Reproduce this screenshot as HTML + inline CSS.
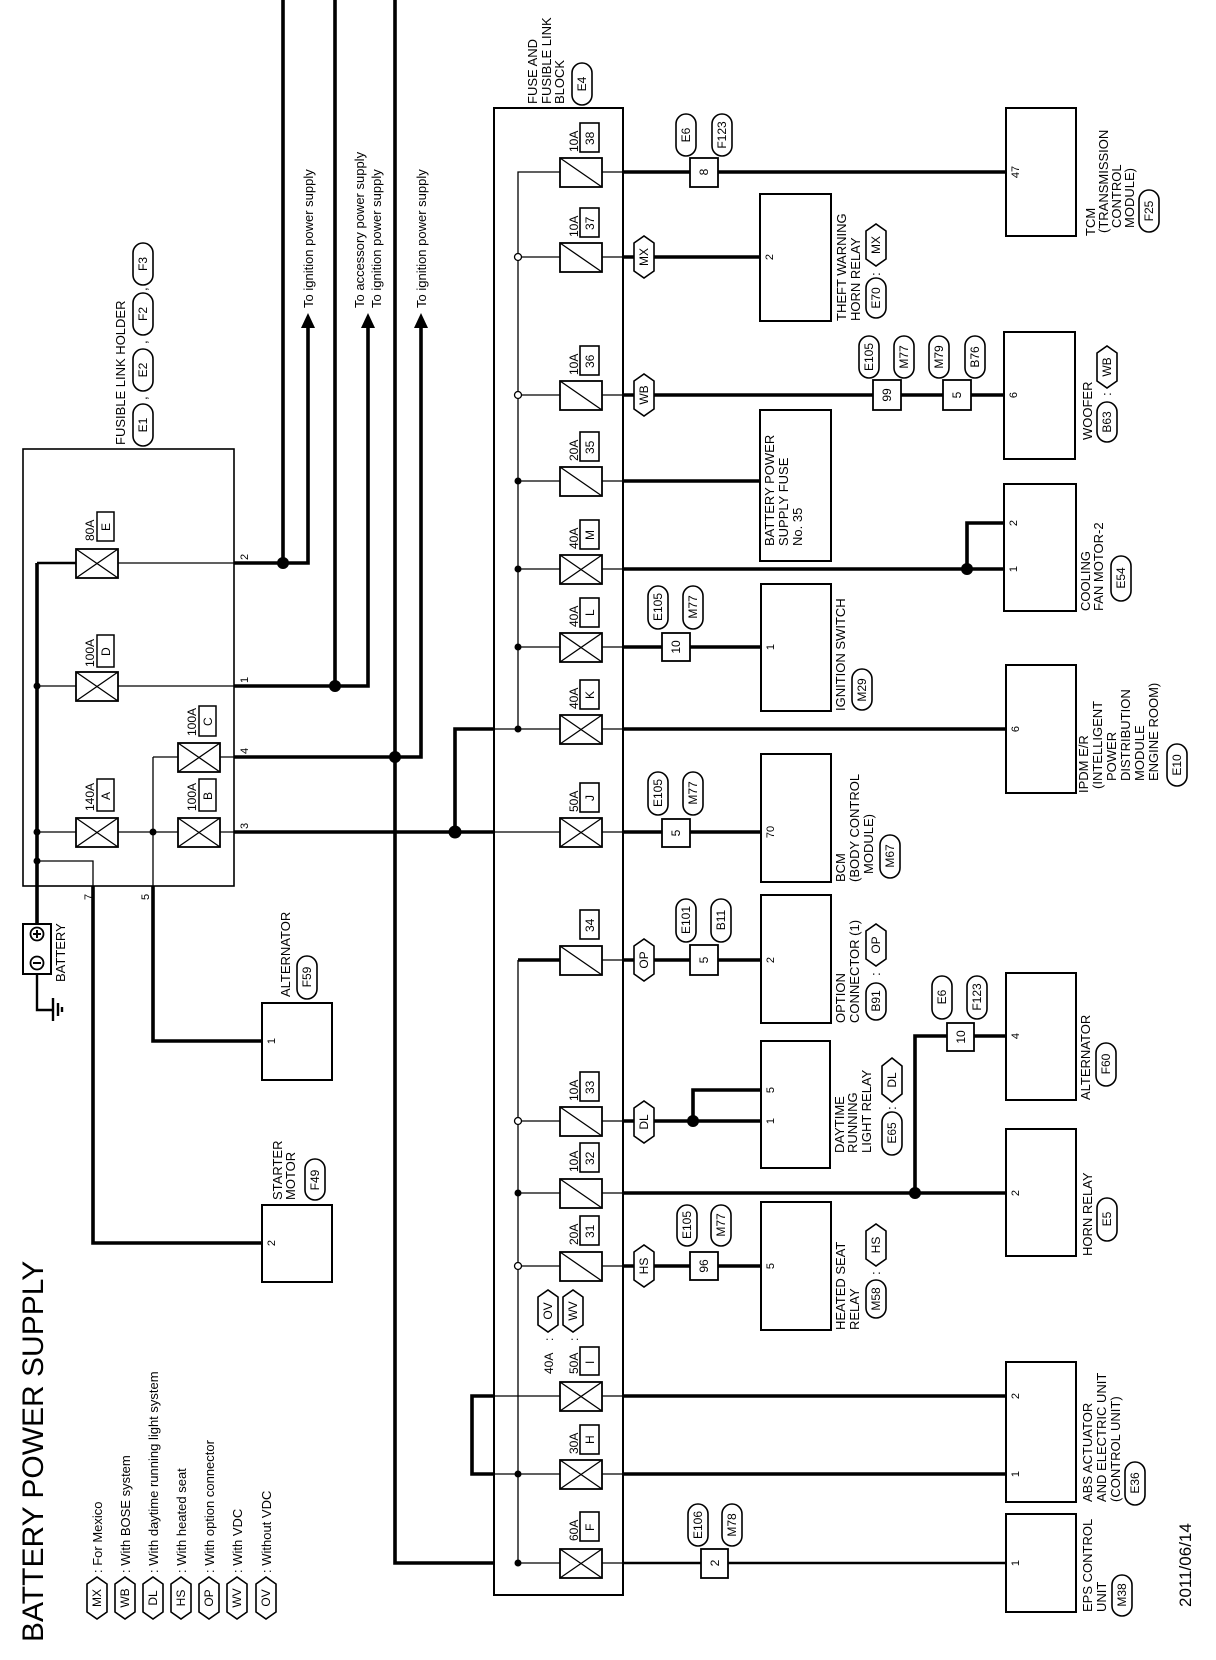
<!DOCTYPE html>
<html><head><meta charset="utf-8"><style>
html,body{margin:0;padding:0;background:#fff;}
svg{display:block;}
text{font-family:"Liberation Sans",Arial,sans-serif;fill:#000;}
.tk{stroke:#000;stroke-width:3.6;fill:none;}
.md{stroke:#000;stroke-width:2.4;fill:none;}
.tn{stroke:#000;stroke-width:1.3;fill:none;}
.bx{stroke:#000;stroke-width:2;fill:#fff;}
.cb{stroke:#000;stroke-width:1.8;fill:#fff;}
.fz{stroke:#000;stroke-width:1.8;fill:#fff;}
.t{font-size:13px;}
.s{font-size:12px;}
.p{font-size:11px;}
</style></head><body>
<svg xmlns="http://www.w3.org/2000/svg" width="1216" height="1660" viewBox="0 0 1216 1660">
<rect width="1216" height="1660" fill="#fff"/>

<!-- Title & legend -->
<text transform="translate(43,1642) rotate(-90)" style="font-size:30px">BATTERY POWER SUPPLY</text>
<g class="s">
<text transform="translate(102,1573) rotate(-90)" class="t">: For Mexico</text>
<text transform="translate(130,1573) rotate(-90)" class="t">: With BOSE system</text>
<text transform="translate(158,1573) rotate(-90)" class="t">: With daytime running light system</text>
<text transform="translate(186,1573) rotate(-90)" class="t">: With heated seat</text>
<text transform="translate(214,1573) rotate(-90)" class="t">: With option connector</text>
<text transform="translate(242,1573) rotate(-90)" class="t">: With VDC</text>
<text transform="translate(271,1573) rotate(-90)" class="t">: Without VDC</text>
</g>

<!-- Fusible link holder box -->
<rect x="23" y="449" width="211" height="437" class="tn" style="stroke-width:1.6"/>
<text transform="translate(125,445) rotate(-90)" class="t">FUSIBLE LINK HOLDER</text>
<text transform="translate(147,400) rotate(-90)" class="t">,</text>
<text transform="translate(147,344) rotate(-90)" class="t">,</text>
<text transform="translate(147,291) rotate(-90)" class="t">,</text>

<!-- Fuse/fusible block -->
<rect x="494" y="108" width="129" height="1487" class="tn" style="stroke-width:2"/>
<text transform="translate(537,104) rotate(-90)" class="t">FUSE AND</text>
<text transform="translate(551,104) rotate(-90)" class="t">FUSIBLE LINK</text>
<text transform="translate(564,104) rotate(-90)" class="t">BLOCK</text>

<!-- thick wires -->
<g class="tk">
<path d="M283 0V563M234 563H308V326"/>
<path d="M335 0V686M234 686H368V326"/>
<path d="M395 0V1563H494M234 757H421V326"/>
<path d="M234 832H494M455 832V729H494"/>
<path d="M623 172H1006"/>
<path d="M623 257H760"/>
<path d="M623 395H1004"/>
<path d="M623 481H760"/>
<path d="M623 569H1004M967 569V523H1004"/>
<path d="M623 647H761"/>
<path d="M623 729H1006"/>
<path d="M623 832H761"/>
<path d="M623 960H761M518 960H560"/>
<path d="M623 1121H761M693 1121V1090H761"/>
<path d="M623 1193H1006M915 1193V1036H1006"/>
<path d="M623 1266H761"/>
<path d="M623 1396H1006M494 1396H472V1474H494"/>
<path d="M623 1474H1006"/>
<path d="M153 886V1041H262M93 886V1243H262"/>
<path d="M37 563V924"/>
</g>
<path class="md" d="M623 1563H1006"/>
<path class="md" d="M37 974V1010H53"/>
<path class="md" d="M37 563H76"/>
<!-- ground -->
<path class="md" d="M53 998V1021M58 1003V1016M62 1007V1012"/>

<!-- arrowheads -->
<polygon points="301,328 315,328 308,313" fill="#000"/>
<polygon points="361,328 375,328 368,313" fill="#000"/>
<polygon points="414,328 428,328 421,313" fill="#000"/>
<text transform="translate(313,308) rotate(-90)" class="t">To ignition power supply</text>
<text transform="translate(364,308) rotate(-90)" class="t">To accessory power supply</text>
<text transform="translate(381,308) rotate(-90)" class="t">To ignition power supply</text>
<text transform="translate(426,308) rotate(-90)" class="t">To ignition power supply</text>

<!-- thin wires -->
<g class="tn">
<path d="M560 172H518V729M518 960V1563"/>
<path d="M518 257H560M518 395H560M518 481H560M518 569H560M518 647H560M494 729H560M494 832H560"/>
<path d="M518 1121H560M518 1193H560M518 1266H560M494 1396H560M494 1474H560M518 1563H560"/>
<path d="M602 172H623M602 257H623M602 395H623M602 481H623M602 569H623M602 647H623M602 729H623M602 832H623M602 960H623M602 1121H623M602 1193H623M602 1266H623M602 1396H623M602 1474H623M602 1563H623"/>
<path d="M118 563H234M37 686H76M118 686H234M37 832H76M118 832H178M220 832H234M153 757H178M220 757H234M153 757V886M37 861H93V886"/>
</g>

<!-- dots -->
<g fill="#000">
<circle cx="283" cy="563" r="6"/><circle cx="335" cy="686" r="6"/><circle cx="395" cy="757" r="6"/><circle cx="455" cy="832" r="6.5"/>
<circle cx="967" cy="569" r="6"/><circle cx="693" cy="1121" r="6"/><circle cx="915" cy="1193" r="6"/>
<circle cx="518" cy="481" r="3.5"/><circle cx="518" cy="569" r="3.5"/><circle cx="518" cy="647" r="3.5"/><circle cx="518" cy="729" r="3.5"/>
<circle cx="518" cy="1193" r="3.5"/><circle cx="518" cy="1474" r="3.5"/><circle cx="518" cy="1563" r="3.5"/>
<circle cx="37" cy="686" r="3.5"/><circle cx="37" cy="832" r="3.5"/><circle cx="37" cy="861" r="3.5"/><circle cx="153" cy="832" r="3.5"/>
</g>
<g fill="#fff" stroke="#000" stroke-width="1.3">
<circle cx="518" cy="257" r="3.5"/><circle cx="518" cy="395" r="3.5"/><circle cx="518" cy="1121" r="3.5"/><circle cx="518" cy="1266" r="3.5"/>
</g>

<!-- terminal labels -->
<g class="p">
<text transform="translate(248,560) rotate(-90)">2</text>
<text transform="translate(248,683) rotate(-90)">1</text>
<text transform="translate(248,754) rotate(-90)">4</text>
<text transform="translate(248,829) rotate(-90)">3</text>
<text transform="translate(92,900) rotate(-90)">7</text>
<text transform="translate(149,900) rotate(-90)">5</text>
</g>

<!-- holder fusible links -->
<g class="fz">
<rect x="76" y="549" width="42" height="29"/><rect x="76" y="672" width="42" height="29"/><rect x="76" y="818" width="42" height="29"/>
<rect x="178" y="818" width="42" height="29"/><rect x="178" y="743" width="42" height="29"/>
</g>
<path class="tn" d="M76 549L118 578M76 578L118 549M76 672L118 701M76 701L118 672M76 818L118 847M76 847L118 818M178 818L220 847M178 847L220 818M178 743L220 772M178 772L220 743"/>
<g class="tn" style="stroke-width:1.5">
<rect x="97" y="512" width="17" height="29"/><rect x="97" y="635" width="17" height="32"/><rect x="97" y="779" width="17" height="32"/>
<rect x="199" y="779" width="17" height="32"/><rect x="199" y="706" width="17" height="30"/>
</g>
<g class="s">
<text transform="translate(94,541) rotate(-90)">80A</text><text transform="translate(110,531) rotate(-90)">E</text>
<text transform="translate(94,667) rotate(-90)">100A</text><text transform="translate(110,656) rotate(-90)">D</text>
<text transform="translate(94,811) rotate(-90)">140A</text><text transform="translate(110,800) rotate(-90)">A</text>
<text transform="translate(196,811) rotate(-90)">100A</text><text transform="translate(212,800) rotate(-90)">B</text>
<text transform="translate(196,736) rotate(-90)">100A</text><text transform="translate(212,726) rotate(-90)">C</text>
</g>

<!-- block fuses -->
<g class="fz">
<rect x="560" y="158" width="42" height="29"/><rect x="560" y="243" width="42" height="29"/><rect x="560" y="381" width="42" height="29"/><rect x="560" y="467" width="42" height="29"/>
<rect x="560" y="555" width="42" height="29"/><rect x="560" y="633" width="42" height="29"/><rect x="560" y="715" width="42" height="29"/><rect x="560" y="818" width="42" height="29"/>
<rect x="560" y="946" width="42" height="29"/><rect x="560" y="1107" width="42" height="29"/><rect x="560" y="1179" width="42" height="29"/><rect x="560" y="1252" width="42" height="29"/>
<rect x="560" y="1382" width="42" height="29"/><rect x="560" y="1460" width="42" height="29"/><rect x="560" y="1549" width="42" height="29"/>
</g>
<path class="tn" d="M560 158L602 187M560 243L602 272M560 381L602 410M560 467L602 496M560 946L602 975M560 1107L602 1136M560 1179L602 1208M560 1252L602 1281"/>
<path class="tn" d="M560 555L602 584M560 584L602 555M560 633L602 662M560 662L602 633M560 715L602 744M560 744L602 715M560 818L602 847M560 847L602 818M560 1382L602 1411M560 1411L602 1382M560 1460L602 1489M560 1489L602 1460M560 1549L602 1578M560 1578L602 1549"/>
<g class="tn" style="stroke-width:1.6">
<rect x="580" y="123" width="19" height="29"/><rect x="580" y="208" width="19" height="29"/><rect x="580" y="346" width="19" height="29"/><rect x="580" y="432" width="19" height="29"/>
<rect x="580" y="520" width="19" height="29"/><rect x="580" y="598" width="19" height="29"/><rect x="580" y="680" width="19" height="29"/><rect x="580" y="783" width="19" height="29"/>
<rect x="580" y="910" width="19" height="29"/><rect x="580" y="1072" width="19" height="29"/><rect x="580" y="1143" width="19" height="29"/><rect x="580" y="1216" width="19" height="29"/>
<rect x="580" y="1347" width="19" height="28"/><rect x="580" y="1425" width="19" height="29"/><rect x="580" y="1512" width="19" height="29"/>
</g>
<g class="s">
<text transform="translate(578,152) rotate(-90)">10A</text><text transform="translate(594,145) rotate(-90)">38</text>
<text transform="translate(578,237) rotate(-90)">10A</text><text transform="translate(594,230) rotate(-90)">37</text>
<text transform="translate(578,375) rotate(-90)">10A</text><text transform="translate(594,368) rotate(-90)">36</text>
<text transform="translate(578,461) rotate(-90)">20A</text><text transform="translate(594,454) rotate(-90)">35</text>
<text transform="translate(578,549) rotate(-90)">40A</text><text transform="translate(594,540) rotate(-90)">M</text>
<text transform="translate(578,627) rotate(-90)">40A</text><text transform="translate(594,616) rotate(-90)">L</text>
<text transform="translate(578,709) rotate(-90)">40A</text><text transform="translate(594,699) rotate(-90)">K</text>
<text transform="translate(578,812) rotate(-90)">50A</text><text transform="translate(594,801) rotate(-90)">J</text>
<text transform="translate(594,932) rotate(-90)">34</text>
<text transform="translate(578,1101) rotate(-90)">10A</text><text transform="translate(594,1094) rotate(-90)">33</text>
<text transform="translate(578,1172) rotate(-90)">10A</text><text transform="translate(594,1165) rotate(-90)">32</text>
<text transform="translate(578,1245) rotate(-90)">20A</text><text transform="translate(594,1238) rotate(-90)">31</text>
<text transform="translate(553,1374) rotate(-90)">40A</text>
<text transform="translate(578,1374) rotate(-90)">50A</text><text transform="translate(594,1364) rotate(-90)">I</text>
<text transform="translate(578,1454) rotate(-90)">30A</text><text transform="translate(594,1444) rotate(-90)">H</text>
<text transform="translate(578,1541) rotate(-90)">60A</text><text transform="translate(594,1531) rotate(-90)">F</text>
<text transform="translate(553,1341) rotate(-90)">:</text><text transform="translate(578,1341) rotate(-90)">:</text>
</g>

<!-- component boxes -->
<g class="bx">
<rect x="1006" y="108" width="70" height="128"/>
<rect x="760" y="194" width="71" height="127"/>
<rect x="760" y="410" width="71" height="151"/>
<rect x="1004" y="332" width="71" height="127"/>
<rect x="1004" y="484" width="72" height="127"/>
<rect x="761" y="584" width="70" height="127"/>
<rect x="1006" y="665" width="70" height="128"/>
<rect x="761" y="754" width="70" height="128"/>
<rect x="761" y="895" width="70" height="128"/>
<rect x="1006" y="973" width="70" height="127"/>
<rect x="761" y="1041" width="69" height="127"/>
<rect x="1006" y="1129" width="70" height="127"/>
<rect x="761" y="1202" width="70" height="128"/>
<rect x="1006" y="1362" width="70" height="140"/>
<rect x="1006" y="1514" width="70" height="98"/>
<rect x="262" y="1003" width="70" height="77"/>
<rect x="262" y="1205" width="70" height="77"/>
<rect x="23" y="924" width="28" height="50"/>
</g>
<!-- battery symbols -->
<circle cx="37" cy="934" r="6.5" fill="#fff" stroke="#000" stroke-width="1.8"/>
<path d="M33 934H41M37 930V938" stroke="#000" stroke-width="2"/>
<circle cx="37" cy="963" r="6.5" fill="#fff" stroke="#000" stroke-width="1.8"/>
<path d="M33 963H41" stroke="#000" stroke-width="2"/>
<text transform="translate(65,982) rotate(-90)" class="t">BATTERY</text>

<!-- pin numbers -->
<g class="p">
<text transform="translate(1019,172) rotate(-90)" text-anchor="middle">47</text>
<text transform="translate(773,257) rotate(-90)" text-anchor="middle">2</text>
<text transform="translate(1017,395) rotate(-90)" text-anchor="middle">6</text>
<text transform="translate(1017,523) rotate(-90)" text-anchor="middle">2</text>
<text transform="translate(1017,569) rotate(-90)" text-anchor="middle">1</text>
<text transform="translate(774,647) rotate(-90)" text-anchor="middle">1</text>
<text transform="translate(1019,729) rotate(-90)" text-anchor="middle">6</text>
<text transform="translate(774,832) rotate(-90)" text-anchor="middle">70</text>
<text transform="translate(774,960) rotate(-90)" text-anchor="middle">2</text>
<text transform="translate(1019,1036) rotate(-90)" text-anchor="middle">4</text>
<text transform="translate(774,1090) rotate(-90)" text-anchor="middle">5</text>
<text transform="translate(774,1121) rotate(-90)" text-anchor="middle">1</text>
<text transform="translate(1019,1193) rotate(-90)" text-anchor="middle">2</text>
<text transform="translate(774,1266) rotate(-90)" text-anchor="middle">5</text>
<text transform="translate(1019,1396) rotate(-90)" text-anchor="middle">2</text>
<text transform="translate(1019,1474) rotate(-90)" text-anchor="middle">1</text>
<text transform="translate(1019,1563) rotate(-90)" text-anchor="middle">1</text>
<text transform="translate(275,1041) rotate(-90)" text-anchor="middle">1</text>
<text transform="translate(275,1243) rotate(-90)" text-anchor="middle">2</text>
</g>

<!-- inline connectors -->
<g class="cb">
<rect x="690" y="158" width="28" height="29"/>
<rect x="873" y="380" width="28" height="30"/>
<rect x="943" y="380" width="28" height="30"/>
<rect x="662" y="633" width="28" height="28"/>
<rect x="662" y="819" width="28" height="28"/>
<rect x="690" y="945" width="28" height="30"/>
<rect x="947" y="1023" width="27" height="28"/>
<rect x="690" y="1252" width="28" height="28"/>
<rect x="701" y="1549" width="27" height="29"/>
</g>
<g class="s">
<text transform="translate(708,172) rotate(-90)" text-anchor="middle">8</text>
<text transform="translate(891,395) rotate(-90)" text-anchor="middle">99</text>
<text transform="translate(961,395) rotate(-90)" text-anchor="middle">5</text>
<text transform="translate(680,647) rotate(-90)" text-anchor="middle">10</text>
<text transform="translate(680,833) rotate(-90)" text-anchor="middle">5</text>
<text transform="translate(708,960) rotate(-90)" text-anchor="middle">5</text>
<text transform="translate(965,1037) rotate(-90)" text-anchor="middle">10</text>
<text transform="translate(708,1266) rotate(-90)" text-anchor="middle">96</text>
<text transform="translate(719,1563) rotate(-90)" text-anchor="middle">2</text>
</g>

<!-- capsule tags -->
<g class="cb" style="stroke-width:1.6">
<rect x="133" y="404" width="20" height="42" rx="10"/>
<rect x="133" y="349" width="20" height="42" rx="10"/>
<rect x="133" y="293" width="20" height="42" rx="10"/>
<rect x="133" y="243" width="20" height="42" rx="10"/>
<rect x="572" y="63" width="20" height="42" rx="10"/>
<rect x="676" y="114" width="20" height="42" rx="10"/>
<rect x="712" y="114" width="20" height="42" rx="10"/>
<rect x="866" y="278" width="20" height="40" rx="10"/>
<rect x="859" y="336" width="20" height="42" rx="10"/>
<rect x="894" y="336" width="20" height="42" rx="10"/>
<rect x="929" y="336" width="20" height="42" rx="10"/>
<rect x="965" y="336" width="20" height="42" rx="10"/>
<rect x="1139" y="190" width="20" height="42" rx="10"/>
<rect x="1097" y="402" width="20" height="40" rx="10"/>
<rect x="1111" y="556" width="20" height="45" rx="10"/>
<rect x="648" y="586" width="20" height="43" rx="10"/>
<rect x="683" y="586" width="20" height="43" rx="10"/>
<rect x="852" y="669" width="20" height="41" rx="10"/>
<rect x="1167" y="744" width="20" height="42" rx="10"/>
<rect x="648" y="772" width="20" height="43" rx="10"/>
<rect x="683" y="772" width="20" height="43" rx="10"/>
<rect x="880" y="835" width="20" height="43" rx="10"/>
<rect x="676" y="899" width="20" height="43" rx="10"/>
<rect x="711" y="899" width="20" height="43" rx="10"/>
<rect x="866" y="983" width="20" height="37" rx="10"/>
<rect x="932" y="976" width="20" height="43" rx="10"/>
<rect x="967" y="976" width="20" height="43" rx="10"/>
<rect x="1096" y="1043" width="20" height="43" rx="10"/>
<rect x="882" y="1112" width="20" height="43" rx="10"/>
<rect x="1097" y="1198" width="20" height="43" rx="10"/>
<rect x="677" y="1205" width="20" height="41" rx="10"/>
<rect x="711" y="1205" width="20" height="41" rx="10"/>
<rect x="866" y="1280" width="20" height="38" rx="10"/>
<rect x="688" y="1504" width="20" height="42" rx="10"/>
<rect x="722" y="1504" width="20" height="42" rx="10"/>
<rect x="1125" y="1462" width="20" height="43" rx="10"/>
<rect x="1112" y="1575" width="20" height="41" rx="10"/>
<rect x="297" y="956" width="20" height="43" rx="10"/>
<rect x="305" y="1159" width="20" height="41" rx="10"/>
</g>
<g class="s" text-anchor="middle">
<text transform="translate(147,425) rotate(-90)">E1</text>
<text transform="translate(147,370) rotate(-90)">E2</text>
<text transform="translate(147,314) rotate(-90)">F2</text>
<text transform="translate(147,264) rotate(-90)">F3</text>
<text transform="translate(586,84) rotate(-90)">E4</text>
<text transform="translate(690,135) rotate(-90)">E6</text>
<text transform="translate(726,135) rotate(-90)">F123</text>
<text transform="translate(880,298) rotate(-90)">E70</text>
<text transform="translate(873,357) rotate(-90)">E105</text>
<text transform="translate(908,357) rotate(-90)">M77</text>
<text transform="translate(943,357) rotate(-90)">M79</text>
<text transform="translate(979,357) rotate(-90)">B76</text>
<text transform="translate(1153,211) rotate(-90)">F25</text>
<text transform="translate(1111,422) rotate(-90)">B63</text>
<text transform="translate(1125,578) rotate(-90)">E54</text>
<text transform="translate(662,607) rotate(-90)">E105</text>
<text transform="translate(697,607) rotate(-90)">M77</text>
<text transform="translate(866,690) rotate(-90)">M29</text>
<text transform="translate(1181,765) rotate(-90)">E10</text>
<text transform="translate(662,793) rotate(-90)">E105</text>
<text transform="translate(697,793) rotate(-90)">M77</text>
<text transform="translate(894,856) rotate(-90)">M67</text>
<text transform="translate(690,920) rotate(-90)">E101</text>
<text transform="translate(725,920) rotate(-90)">B11</text>
<text transform="translate(880,1001) rotate(-90)">B91</text>
<text transform="translate(946,997) rotate(-90)">E6</text>
<text transform="translate(981,997) rotate(-90)">F123</text>
<text transform="translate(1110,1064) rotate(-90)">F60</text>
<text transform="translate(896,1133) rotate(-90)">E65</text>
<text transform="translate(1111,1219) rotate(-90)">E5</text>
<text transform="translate(691,1225) rotate(-90)">E105</text>
<text transform="translate(725,1225) rotate(-90)">M77</text>
<text transform="translate(880,1299) rotate(-90)">M58</text>
<text transform="translate(702,1525) rotate(-90)">E106</text>
<text transform="translate(736,1525) rotate(-90)">M78</text>
<text transform="translate(1139,1483) rotate(-90)">E36</text>
<text transform="translate(1126,1595) rotate(-90)">M38</text>
<text transform="translate(311,977) rotate(-90)">F59</text>
<text transform="translate(319,1180) rotate(-90)">F49</text>
</g>

<!-- hexagon tags -->
<g class="cb" style="stroke-width:1.6">
<polygon points="634,243 644,236 654,243 654,271 644,278 634,271"/>
<polygon points="634,381 644,374 654,381 654,409 644,416 634,409"/>
<polygon points="634,946 644,939 654,946 654,974 644,981 634,974"/>
<polygon points="634,1108 644,1101 654,1108 654,1136 644,1143 634,1136"/>
<polygon points="634,1252 644,1245 654,1252 654,1280 644,1287 634,1280"/>
<polygon points="866,231 876,224 886,231 886,259 876,266 866,259"/>
<polygon points="1097,353 1107,346 1117,353 1117,381 1107,388 1097,381"/>
<polygon points="866,931 876,924 886,931 886,959 876,966 866,959"/>
<polygon points="882,1066 892,1058 902,1066 902,1094 892,1102 882,1094"/>
<polygon points="866,1231 876,1224 886,1231 886,1259 876,1266 866,1259"/>
<polygon points="538,1297 548,1290 558,1297 558,1325 548,1332 538,1325"/>
<polygon points="563,1297 573,1290 583,1297 583,1325 573,1332 563,1325"/>
<polygon points="87,1584 97,1577 107,1584 107,1612 97,1619 87,1612"/>
<polygon points="115,1584 125,1577 135,1584 135,1612 125,1619 115,1612"/>
<polygon points="143,1584 153,1577 163,1584 163,1612 153,1619 143,1612"/>
<polygon points="171,1584 181,1577 191,1584 191,1612 181,1619 171,1612"/>
<polygon points="199,1584 209,1577 219,1584 219,1612 209,1619 199,1612"/>
<polygon points="227,1584 237,1577 247,1584 247,1612 237,1619 227,1612"/>
<polygon points="256,1584 266,1577 276,1584 276,1612 266,1619 256,1612"/>
</g>
<g class="s" text-anchor="middle">
<text transform="translate(648,257) rotate(-90)">MX</text>
<text transform="translate(648,395) rotate(-90)">WB</text>
<text transform="translate(648,960) rotate(-90)">OP</text>
<text transform="translate(648,1122) rotate(-90)">DL</text>
<text transform="translate(648,1266) rotate(-90)">HS</text>
<text transform="translate(880,245) rotate(-90)">MX</text>
<text transform="translate(1111,367) rotate(-90)">WB</text>
<text transform="translate(880,945) rotate(-90)">OP</text>
<text transform="translate(896,1080) rotate(-90)">DL</text>
<text transform="translate(880,1245) rotate(-90)">HS</text>
<text transform="translate(552,1311) rotate(-90)">OV</text>
<text transform="translate(577,1311) rotate(-90)">WV</text>
<text transform="translate(101,1598) rotate(-90)">MX</text>
<text transform="translate(129,1598) rotate(-90)">WB</text>
<text transform="translate(157,1598) rotate(-90)">DL</text>
<text transform="translate(185,1598) rotate(-90)">HS</text>
<text transform="translate(213,1598) rotate(-90)">OP</text>
<text transform="translate(241,1598) rotate(-90)">WV</text>
<text transform="translate(270,1598) rotate(-90)">OV</text>
</g>
<g class="t" text-anchor="middle">
<text transform="translate(880,274) rotate(-90)">:</text>
<text transform="translate(1111,394) rotate(-90)">:</text>
<text transform="translate(880,974) rotate(-90)">:</text>
<text transform="translate(896,1108) rotate(-90)">:</text>
<text transform="translate(880,1273) rotate(-90)">:</text>
</g>

<!-- component labels -->
<g class="t">
<text transform="translate(1095,236) rotate(-90)">TCM</text>
<text transform="translate(1108,233) rotate(-90)">(TRANSMISSION</text>
<text transform="translate(1121,228) rotate(-90)">CONTROL</text>
<text transform="translate(1134,228) rotate(-90)">MODULE)</text>
<text transform="translate(846,321) rotate(-90)">THEFT WARNING</text>
<text transform="translate(860,321) rotate(-90)">HORN RELAY</text>
<text transform="translate(774,546) rotate(-90)">BATTERY POWER</text>
<text transform="translate(788,546) rotate(-90)">SUPPLY FUSE</text>
<text transform="translate(802,546) rotate(-90)">No. 35</text>
<text transform="translate(1092,440) rotate(-90)">WOOFER</text>
<text transform="translate(1090,611) rotate(-90)">COOLING</text>
<text transform="translate(1103,611) rotate(-90)">FAN MOTOR-2</text>
<text transform="translate(845,711) rotate(-90)">IGNITION SWITCH</text>
<text transform="translate(1088,793) rotate(-90)">IPDM E/R</text>
<text transform="translate(1102,789) rotate(-90)">(INTELLIGENT</text>
<text transform="translate(1116,781) rotate(-90)">POWER</text>
<text transform="translate(1130,781) rotate(-90)">DISTRIBUTION</text>
<text transform="translate(1144,781) rotate(-90)">MODULE</text>
<text transform="translate(1158,781) rotate(-90)">ENGINE ROOM)</text>
<text transform="translate(845,882) rotate(-90)">BCM</text>
<text transform="translate(859,882) rotate(-90)">(BODY CONTROL</text>
<text transform="translate(873,874) rotate(-90)">MODULE)</text>
<text transform="translate(845,1023) rotate(-90)">OPTION</text>
<text transform="translate(859,1023) rotate(-90)">CONNECTOR (1)</text>
<text transform="translate(1090,1100) rotate(-90)">ALTERNATOR</text>
<text transform="translate(844,1153) rotate(-90)">DAYTIME</text>
<text transform="translate(857,1153) rotate(-90)">RUNNING</text>
<text transform="translate(871,1153) rotate(-90)">LIGHT RELAY</text>
<text transform="translate(1092,1256) rotate(-90)">HORN RELAY</text>
<text transform="translate(845,1330) rotate(-90)">HEATED SEAT</text>
<text transform="translate(859,1330) rotate(-90)">RELAY</text>
<text transform="translate(1092,1502) rotate(-90)">ABS ACTUATOR</text>
<text transform="translate(1106,1502) rotate(-90)">AND ELECTRIC UNIT</text>
<text transform="translate(1120,1502) rotate(-90)">(CONTROL UNIT)</text>
<text transform="translate(1092,1612) rotate(-90)">EPS CONTROL</text>
<text transform="translate(1106,1612) rotate(-90)">UNIT</text>
<text transform="translate(290,997) rotate(-90)">ALTERNATOR</text>
<text transform="translate(282,1200) rotate(-90)">STARTER</text>
<text transform="translate(295,1200) rotate(-90)">MOTOR</text>
</g>
<text transform="translate(1191,1607) rotate(-90)" style="font-size:17px">2011/06/14</text>
</svg>
</body></html>
